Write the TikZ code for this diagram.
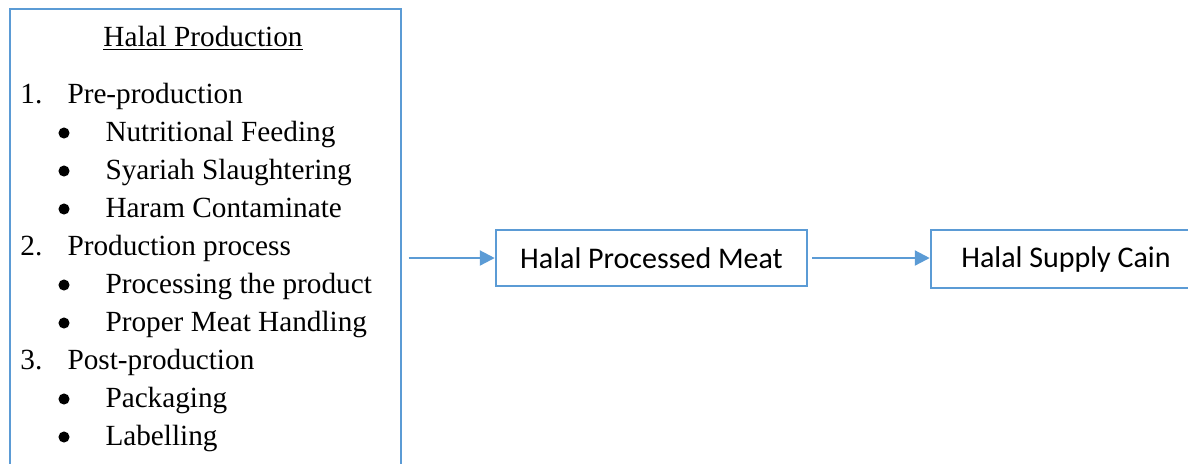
\documentclass[tikz,border=0pt]{standalone}
\usepackage{fontspec}
\setmainfont{Liberation Serif}
\newfontfamily\calibri{Carlito}
\usetikzlibrary{arrows.meta,calc}
\usepackage{xcolor}
\definecolor{boxblue}{RGB}{91,155,213}

\begin{document}
\begin{tikzpicture}[x=0.4pt,y=-0.4pt,
        bluebox/.style={draw=boxblue,line width=1pt,inner sep=0pt},
        flow/.style={draw=boxblue,line width=0.9pt,-{Triangle[length=6pt,width=6pt]}},
        item/.style={anchor=base west,inner sep=0pt,font=\fontsize{11.7}{14}\selectfont},
        boxtext/.style={font=\calibri\fontsize{12}{14}\selectfont}]
        \useasboundingbox (0,0) rectangle (1188,463);
        \clip (0,0) rectangle (1188,463);

        \node[bluebox,anchor=north west,minimum width=156.4pt,minimum height=200pt] (prod) at (8.5,7.5) {};

        \node[item,anchor=base] (title) at (203,46) {\underline{Halal Production}};

        \node[item] (n1) at (20,103) {1.};
        \node[item] (pre) at (67,103) {Pre-production};
        \filldraw[black] (64,133) circle (2pt);
        \node[item] (feed) at (105,141) {Nutritional Feeding};
        \filldraw[black] (64,171) circle (2pt);
        \node[item] (slaughter) at (105,179) {Syariah Slaughtering};
        \filldraw[black] (64,209) circle (2pt);
        \node[item] (haram) at (105,217) {Haram Contaminate};

        \node[item] (n2) at (20,255) {2.};
        \node[item] (process) at (67,255) {Production process};
        \filldraw[black] (64,285) circle (2pt);
        \node[item] (product) at (105,293) {Processing the product};
        \filldraw[black] (64,323) circle (2pt);
        \node[item] (handling) at (105,331) {Proper Meat Handling};

        \node[item] (n3) at (20,369) {3.};
        \node[item] (post) at (67,369) {Post-production};
        \filldraw[black] (64,399) circle (2pt);
        \node[item] (pack) at (105,407) {Packaging};
        \filldraw[black] (64,437) circle (2pt);
        \node[item] (label) at (105,445) {Labelling};

        \node[bluebox,boxtext,minimum width=124.4pt,minimum height=22.4pt] (meat) at (651.5,258) {Halal Processed Meat};
        \node[bluebox,boxtext,minimum width=108pt,minimum height=23.2pt] (chain) at (1066,259) {Halal Supply Cain};

        \draw[flow,shorten <=2.6pt] (prod.east |- meat.west) -- (meat.west);
        \draw[flow,shorten <=1.6pt] (meat.east) -- (meat.east -| chain.west);

      \end{tikzpicture}
\end{document}
